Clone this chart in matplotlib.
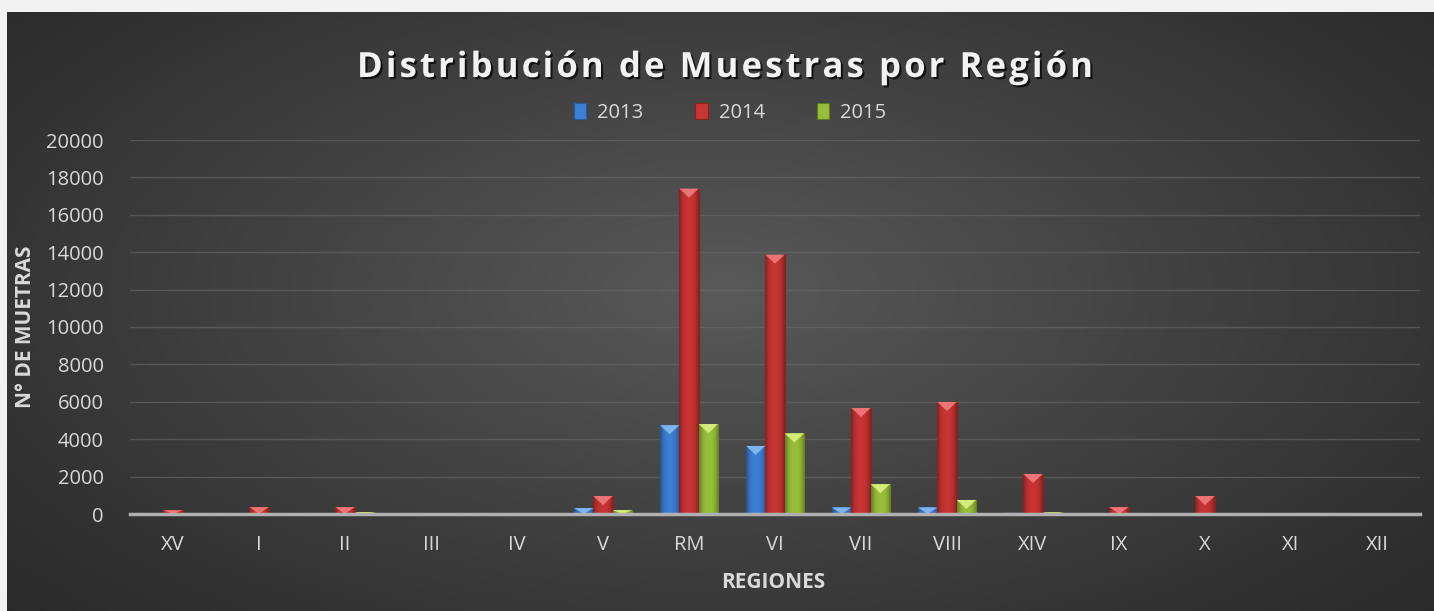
import numpy as np
import matplotlib

matplotlib.use("Agg")
import matplotlib.pyplot as plt
import matplotlib.patheffects as pe
from matplotlib.colors import to_rgb
from matplotlib.patches import Polygon

regions = ["XV", "I", "II", "III", "IV", "V", "RM", "VI", "VII", "VIII",
           "XIV", "IX", "X", "XI", "XII"]
years = ["2013", "2014", "2015"]
m2013 = [0, 0, 10, 0, 0, 320, 4750, 3640, 350, 350, 60, 0, 20, 0, 0]
m2014 = [200, 370, 370, 20, 20, 960, 17400, 13870, 5670, 5990, 2140, 370, 960, 30, 0]
m2015 = [50, 0, 100, 0, 0, 210, 4810, 4310, 1600, 750, 90, 20, 20, 0, 0]
yticks = list(range(0, 20001, 2000))

title = "Distribución de Muestras por Región"
font = "Open Sans"
txt = "#d9d9d9"

W, H = 1434, 611
fig = plt.figure(figsize=(W / 100, H / 100), dpi=100, facecolor="#f2f2f2")

# dark radial background for the chart area
bg = fig.add_axes([7 / W, 0, 1 - 7 / W, 1 - 12 / H])
bg.set_axis_off()
yy, xx = np.mgrid[0:300, 0:700]
r = np.sqrt(((xx - 350) / 520.0) ** 2 + ((yy - 140) / 260.0) ** 2)
shade = np.clip(1 - r, 0, 1) ** 1.1
lo, hi = np.array([0.15, 0.15, 0.15]), np.array([0.35, 0.35, 0.35])
img = lo + (hi - lo) * shade[..., None]
bg.imshow(img, aspect="auto", extent=[0, 1, 0, 1], origin="upper")

ax = fig.add_axes([130 / W, 97 / H, 1290 / W, 374 / H])
ax.set_facecolor("none")
ax.set_zorder(2)

x = np.arange(len(regions))
bw = 0.225
series = [(m2013, "#3d7fd3", "#245aa0", "#8cc0f5"),
          (m2014, "#c93434", "#8e1f1f", "#f48080"),
          (m2015, "#98bf3a", "#5f7d1c", "#e0f585")]

dep = 9 * 20000 / 374.0  # bevel depth ~9px in data units
u = np.linspace(-1, 1, 40)
prof = 1 - 0.35 * np.abs(u) ** 2.5  # darker towards the bar sides

for i, (vals, face, edge, light) in enumerate(series):
    pos = x + (i - 1) * bw
    bars = ax.bar(pos, vals, width=bw, color=face, edgecolor=edge, linewidth=0.8,
                  label=years[i], zorder=3)
    grad = (np.array(to_rgb(face))[None, :] * prof[:, None])[None, :, :]
    for b, px, v in zip(bars, pos, vals):
        if v <= 0:
            continue
        im = ax.imshow(grad, aspect="auto", extent=[px - bw / 2, px + bw / 2, 0, v],
                       zorder=3.5, interpolation="bilinear")
        im.set_clip_path(b)
        d = min(dep, v)
        tri = Polygon([[px - bw / 2, v], [px + bw / 2, v], [px, v - d]],
                      closed=True, facecolor=light, edgecolor="none",
                      alpha=0.85, zorder=4)
        ax.add_patch(tri)

ax.set_xlim(-0.5, len(regions) - 0.5)
ax.set_ylim(0, 20000)
ax.set_yticks(yticks)
ax.set_xticks(x)
ax.set_xticklabels(regions)
ax.grid(axis="y", color="#6a6a6a", linewidth=1.0, alpha=0.6)
ax.set_axisbelow(True)
for s in ["top", "right", "left"]:
    ax.spines[s].set_visible(False)
ax.spines["bottom"].set_color("#b0b0b0")
ax.spines["bottom"].set_linewidth(2.5)
ax.spines["bottom"].set_zorder(5)
ax.tick_params(length=0, colors=txt, labelsize=14.5)
ax.tick_params(axis="x", pad=15)
ax.tick_params(axis="y", pad=19)
for lab in ax.get_xticklabels() + ax.get_yticklabels():
    lab.set_fontfamily(font)

fig.text(26 / W, 1 - 327 / H, "N° DE MUETRAS", rotation=90, ha="center",
         va="center", color=txt, fontsize=15, fontweight="bold", family=font)
fig.text(773 / W, 1 - 583 / H, "REGIONES", ha="center", va="center",
         color=txt, fontsize=15, fontweight="bold", family=font)

leg = fig.legend(loc="center", bbox_to_anchor=(730 / W, 1 - 113 / H), ncol=3,
                 frameon=False, handlelength=0.6, handleheight=0.8,
                 handletextpad=0.55, columnspacing=2.6, borderpad=0,
                 prop={"family": font, "size": 14.5})
for t in leg.get_texts():
    t.set_color(txt)

# title with letter spacing
fig.canvas.draw()
rend = fig.canvas.get_renderer()
tsize = 25
widths = []


def text_width(s):
    probe = fig.text(0, 0, s, fontsize=tsize, fontweight="bold", family=font)
    w = probe.get_window_extent(rend).width
    probe.remove()
    return w


for ch in title:
    if ch == " ":
        widths.append(text_width("a a") - text_width("aa"))
    else:
        widths.append(text_width(ch))
target = 1093 - 357
extra = (target - sum(widths)) / (len(title) - 1)
cx = 357.0
shadow = [pe.withSimplePatchShadow(offset=(1.5, -1.5), shadow_rgbFace="black", alpha=0.7)]
for ch, w in zip(title, widths):
    if ch != " ":
        fig.text(cx / W, 1 - 68 / H, ch, ha="left", va="center", fontsize=tsize,
                 fontweight="bold", family=font, color="#f2f2f2", path_effects=shadow)
    cx += w + extra

fig.savefig("out.png", dpi=100, facecolor=fig.get_facecolor())
